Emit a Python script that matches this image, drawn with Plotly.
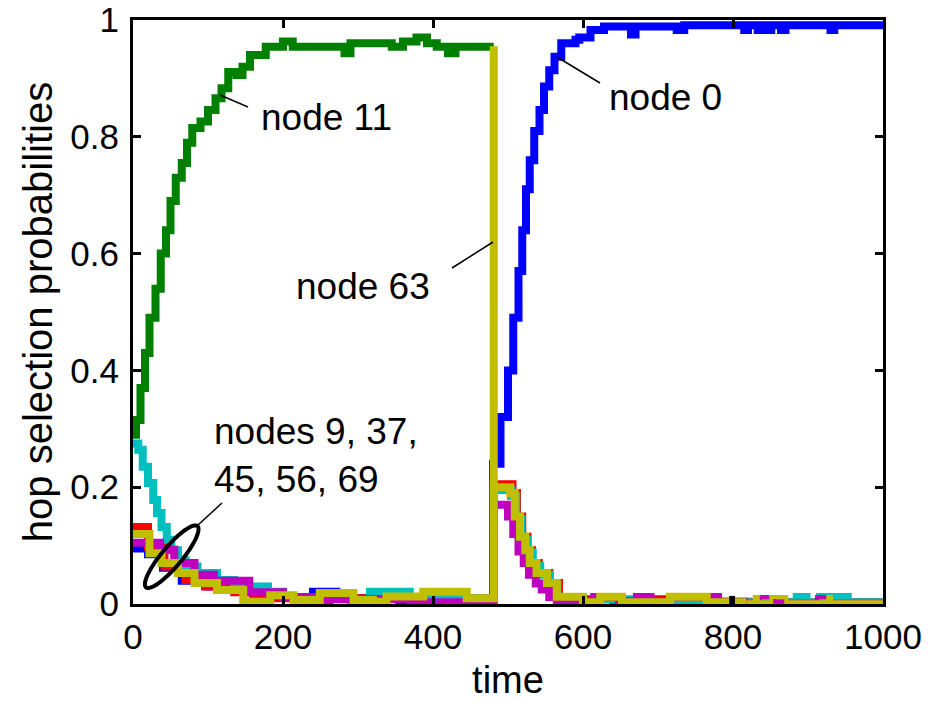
import math
import plotly.graph_objects as go

# ---------------- data ----------------
t_blue = [0, 20, 40, 65, 100, 155, 200, 240, 271, 355, 380, 480, 490, 500, 507, 514, 519, 524, 529, 535,
          542, 548, 555, 562, 571, 590, 595, 610, 628, 664, 670, 725, 735, 815, 820, 833, 838, 846, 851, 864,
          870, 930, 935, 1000]
p_blue = [0.095, 0.085, 0.062, 0.04, 0.03, 0.02, 0.012, 0.021, 0.01, 0.003, 0.01, 0.24, 0.32, 0.40, 0.49, 0.57, 0.64, 0.71, 0.76, 0.81,
          0.846, 0.886, 0.914, 0.937, 0.96, 0.966, 0.97, 0.983, 0.989, 0.975, 0.989, 0.983, 0.991, 0.983, 0.991, 0.983, 0.991, 0.983, 0.991, 0.983,
          0.991, 0.983, 0.991, 0.991]

t_green = [0, 4, 10, 16, 22, 30, 37, 44, 50, 57, 65, 72, 79, 90, 100, 110, 118, 127, 138, 146,
           156, 177, 200, 213, 282, 290, 345, 360, 378, 392, 405, 420, 430, 481]
p_green = [0.29, 0.315, 0.37, 0.43, 0.49, 0.54, 0.60, 0.64, 0.69, 0.73, 0.755, 0.79, 0.815, 0.826, 0.846, 0.866, 0.883, 0.911, 0.906, 0.92,
           0.94, 0.954, 0.963, 0.954, 0.943, 0.96, 0.954, 0.963, 0.97, 0.96, 0.954, 0.943, 0.954, 0.954]

t_red = [0, 20, 42, 70, 96, 135, 160, 240, 262, 440, 470, 481, 506, 512, 519, 526, 532, 541, 555, 568,
         600, 640, 700, 760, 820, 1000]
p_red = [0.132, 0.098, 0.064, 0.041, 0.03, 0.02, 0.01, 0.002, 0.01, 0.002, 0.01, 0.205, 0.19, 0.15, 0.115, 0.092, 0.07, 0.053, 0.036, 0.012,
         0.008, 0.004, 0.008, 0.004, 0.003, 0.003]

t_cyan = [0, 7, 13, 20, 27, 32, 38, 45, 51, 60, 70, 86, 112, 135, 180, 200, 290, 316, 369, 481,
          504, 511, 518, 526, 533, 543, 556, 566, 600, 619, 672, 689, 885, 898, 916, 929, 939, 953, 1000]
p_cyan = [0.275, 0.264, 0.235, 0.207, 0.178, 0.156, 0.132, 0.11, 0.092, 0.075, 0.064, 0.053, 0.041, 0.03, 0.021, 0.012, 0.002, 0.021, 0.01, 0.195,
          0.185, 0.145, 0.11, 0.088, 0.065, 0.05, 0.033, 0.01, 0.002, 0.008, 0.012, 0.003, 0.012, 0.003, 0.012, 0.003, 0.012, 0.003, 0.003]

t_mag = [0, 36, 55, 82, 108, 155, 200, 260, 370, 481, 500, 507, 514, 521, 528, 537, 545, 555, 565, 615,
         648, 672, 690, 716, 780, 820]
p_mag = [0.105, 0.093, 0.07, 0.05, 0.04, 0.02, 0.012, 0.008, 0.003, 0.17, 0.15, 0.12, 0.09, 0.07, 0.05, 0.035, 0.025, 0.012, 0.005, 0.012,
         0.005, 0.012, 0.005, 0.012, 0.004, 0.004]
t_mag_late = [820, 835, 855, 912, 930, 1000]
p_mag_late = [0.004, 0.012, 0.004, 0.012, 0.004, 0.004]

t_yel = [0, 22, 38, 60, 82, 112, 147, 183, 214, 249, 294, 320, 338, 387, 445, 481, 481, 503, 509, 516,
         523, 529, 538, 552, 565, 600, 623, 652, 716, 765, 818]
p_yel = [0.12, 0.087, 0.07, 0.053, 0.036, 0.024, 0.004, 0.015, 0.007, 0.019, 0.007, 0.004, 0.013, 0.021, 0.01, 0.955, 0.2, 0.19, 0.15, 0.115,
         0.092, 0.07, 0.053, 0.036, 0.0125, 0.003, 0.0125, 0.003, 0.0125, 0.003, 0.003]
t_yel_late = [818, 829, 833, 851, 871, 927, 931, 1000]
p_yel_late = [0.003, 0.012, 0.003, 0.012, 0.003, 0.012, 0.003, 0.003]

t_black = [795, 801]
p_black = [0.007, 0.007]

x_ticks = [0, 200, 400, 600, 800, 1000]
y_ticks = [0, 0.2, 0.4, 0.6, 0.8, 1]
y_tick_text = ["0", "0.2", "0.4", "0.6", "0.8", "1"]

labels = ["node 11", "node 63", "node 0", "nodes 9, 37,<br>45, 56, 69"]

# ---------------- layout geometry ----------------
W, H = 930, 701
PL, PR, PT, PB = 133, 883, 20, 604  # plot-area pixel box
FONT = "Liberation Sans, Arial, sans-serif"


def to_x(X):
    return (X - PL) / (PR - PL) * 1000


def to_y(Y):
    return (PB - Y) / (PB - PT)


fig = go.Figure()
LW = 8
series = [
    (t_blue, p_blue, "#0000FF", LW),
    (t_green, p_green, "#008000", LW),
    (t_red, p_red, "#FF0000", LW),
    (t_cyan, p_cyan, "#00BFBF", LW),
    (t_mag, p_mag, "#BF00BF", LW),
    (t_mag_late, p_mag_late, "#BF00BF", 4),
    (t_yel, p_yel, "#BFBF00", LW),
    (t_yel_late, p_yel_late, "#BFBF00", 4),
    (t_black, p_black, "#000000", LW),
]
for t, p, c, w in series:
    fig.add_trace(go.Scatter(x=t, y=p, mode="lines", line=dict(color=c, width=w, shape="hv"),
                             showlegend=False, hoverinfo="skip"))

# annotations
ann_font = dict(family=FONT, size=37, color="black")
ann_pos = [(259, 117), (294, 286), (607, 97), (212, 455)]
annotations = []
for txt, (X, Y) in zip(labels, ann_pos):
    annotations.append(dict(x=to_x(X), y=to_y(Y), xref="x", yref="y", text=txt, showarrow=False,
                            xanchor="left", yanchor="middle", align="left", font=ann_font))

shapes = []
leaders = [((220, 95), (248, 107)), ((452, 268), (493, 242)), ((557, 57), (600, 83)), ((198, 525), (222, 503))]
for (x0, y0), (x1, y1) in leaders:
    shapes.append(dict(type="line", xref="x", yref="y", x0=to_x(x0), y0=to_y(y0), x1=to_x(x1), y1=to_y(y1),
                       line=dict(color="black", width=1.5)))

# ellipse around the low-valued node curves
cx, cy, a, b, th = 171.7, 556.7, 40, 10, math.radians(50)
pts = []
for k in range(73):
    s = 2 * math.pi * k / 72
    X = cx + a * math.cos(s) * math.cos(th) - b * math.sin(s) * math.sin(th)
    Y = cy - (a * math.cos(s) * math.sin(th) + b * math.sin(s) * math.cos(th))
    pts.append((to_x(X), to_y(Y)))
path = "M " + " L ".join(f"{x:.3f},{y:.5f}" for x, y in pts) + " Z"
shapes.append(dict(type="path", xref="x", yref="y", path=path, line=dict(color="black", width=4)))

axis_common = dict(showline=True, linecolor="black", linewidth=3, mirror="ticks", ticks="inside",
                   ticklen=8, tickwidth=2.5, tickcolor="black", showgrid=False, zeroline=False,
                   tickfont=dict(family=FONT, size=35, color="black"))

fig.update_layout(
    width=W, height=H,
    margin=dict(l=PL, r=W - PR, t=PT, b=H - PB, autoexpand=False),
    paper_bgcolor="white", plot_bgcolor="white",
    xaxis=dict(range=[0, 1000], tickvals=x_ticks, ticklabelstandoff=0,
               title=dict(text="time", font=dict(family=FONT, size=38, color="black"), standoff=26),
               **axis_common),
    yaxis=dict(range=[0, 1], tickvals=y_ticks, ticktext=y_tick_text, ticklabelstandoff=4,
               title=dict(text="hop selection probabilities", font=dict(family=FONT, size=40, color="black"), standoff=6),
               **axis_common),
    annotations=annotations,
    shapes=shapes,
)

fig.write_html("out.html", config={"displayModeBar": False},
               post_script="document.body.style.margin='0';document.body.style.overflow='hidden';")
